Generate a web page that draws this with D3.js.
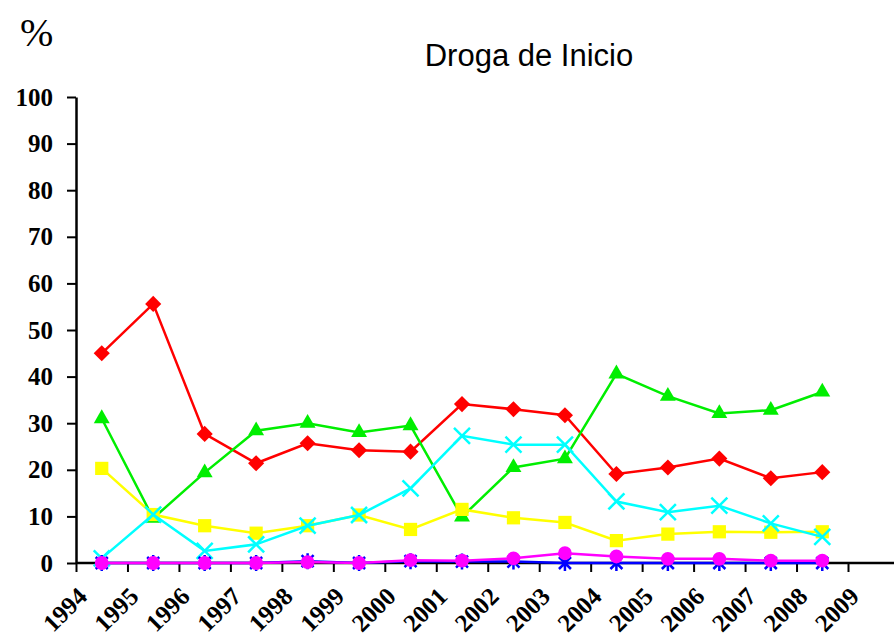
<!DOCTYPE html>
<html>
<head>
<meta charset="utf-8">
<script src="https://cdn.jsdelivr.net/npm/d3@7"></script>
<style>
  body { margin: 0; background: #fff; }
  svg { display: block; }
</style>
</head>
<body>
<div id="chart"></div>
<script>
// ===== DATA =====
const years = [1994, 1995, 1996, 1997, 1998, 1999, 2000, 2001, 2002, 2003, 2004, 2005, 2006, 2007, 2008];
const tickLabels = ["1994", "1995", "1996", "1997", "1998", "1999", "2000", "2001", "2002", "2003", "2004", "2005", "2006", "2007", "2008", "2009"];
const yTicks = [0, 10, 20, 30, 40, 50, 60, 70, 80, 90, 100];

const redValues     = [45.0, 55.6, 27.7, 21.4, 25.7, 24.2, 23.9, 34.1, 33.0, 31.7, 19.1, 20.5, 22.4, 18.2, 19.5];
const greenValues   = [31.0, 9.6, 19.4, 28.4, 30.0, 28.0, 29.5, 9.9, 20.5, 22.4, 40.6, 35.8, 32.1, 32.8, 36.7];
const yellowValues  = [20.3, 10.4, 8.0, 6.4, 8.0, 10.3, 7.2, 11.5, 9.7, 8.7, 4.8, 6.2, 6.7, 6.6, 6.7];
const cyanValues    = [1.0, 10.4, 2.6, 4.0, 8.0, 10.3, 16.0, 27.3, 25.4, 25.4, 13.2, 10.9, 12.3, 8.5, 5.6];
const blueValues    = [0, 0, 0, 0, 0.4, 0, 0.4, 0.3, 0.3, 0, 0, 0, 0, 0, 0];
const magentaValues = [0, 0, 0, 0, 0.2, 0, 0.6, 0.5, 1.0, 2.1, 1.4, 0.9, 0.9, 0.5, 0.5];

// drawing order: later ones on top
const series = [
  { name: 'red',     values: redValues,     color: '#ff0000', marker: 'diamond' },
  { name: 'green',   values: greenValues,   color: '#00ee00', marker: 'triangle' },
  { name: 'yellow',  values: yellowValues,  color: '#ffff00', marker: 'square' },
  { name: 'cyan',    values: cyanValues,    color: '#00ffff', marker: 'x' },
  { name: 'blue',    values: blueValues,    color: '#0000ff', marker: 'star' },
  { name: 'magenta', values: magentaValues, color: '#ff00ff', marker: 'circle' }
];

// ===== LAYOUT =====
const width = 894, height = 637;
const plot = { left: 76, right: 848, top: 97, bottom: 563 };

const svg = d3.select('#chart').append('svg')
  .attr('width', width)
  .attr('height', height);

// x: 15 categories, ticks on category edges
const x = d3.scaleLinear().domain([0, years.length]).range([plot.left, plot.right]);
const y = d3.scaleLinear().domain([0, 100]).range([plot.bottom, plot.top]);

// y axis
const yAxis = d3.axisLeft(y).tickValues(yTicks).tickSize(9).tickPadding(14).tickSizeOuter(0);
const gy = svg.append('g')
  .attr('transform', `translate(${plot.left},0)`)
  .call(yAxis);
gy.select('.domain').attr('stroke', '#000').attr('stroke-width', 2.5);
gy.selectAll('.tick line').attr('stroke', '#000').attr('stroke-width', 2);
gy.selectAll('.tick text')
  .attr('fill', '#000')
  .style('font-family', '"Liberation Serif", "Times New Roman", serif')
  .style('font-weight', 'bold')
  .style('font-size', '25px');

// x axis
const xAxis = d3.axisBottom(x)
  .tickValues(d3.range(tickLabels.length))
  .tickFormat(i => tickLabels[i])
  .tickSize(9)
  .tickSizeOuter(0);
const gx = svg.append('g')
  .attr('transform', `translate(0,${plot.bottom})`)
  .call(xAxis);
gx.select('.domain').remove();
gx.append('line')
  .attr('x1', plot.left).attr('x2', width)
  .attr('y1', 0).attr('y2', 0)
  .attr('stroke', '#000').attr('stroke-width', 2.5);
gx.selectAll('.tick line').attr('stroke', '#000').attr('stroke-width', 2);
gx.selectAll('.tick text')
  .attr('fill', '#000')
  .attr('text-anchor', 'end')
  .attr('dy', null)
  .attr('y', 0)
  .attr('transform', 'translate(12,35) rotate(-45)')
  .style('font-family', '"Liberation Serif", "Times New Roman", serif')
  .style('font-weight', 'bold')
  .style('font-size', '25px');

// ===== MARKERS =====
function markerPath(type) {
  if (type === 'diamond') return d3.symbol(d3.symbolSquare, 130)();
  if (type === 'triangle') return d3.symbol(d3.symbolTriangle, 110)();
  if (type === 'square') return d3.symbol(d3.symbolSquare, 175)();
  if (type === 'circle') return d3.symbol(d3.symbolCircle, 150)();
  if (type === 'x') {
    const r = 8;
    return `M${-r},${-r}L${r},${r}M${-r},${r}L${r},${-r}`;
  }
  if (type === 'star') {
    const r = 6;
    return `M${-r},${-r}L${r},${r}M${-r},${r}L${r},${-r}M0,${-r - 2}L0,${r + 2}`;
  }
}

const line = d3.line()
  .x((d, i) => x(i + 0.5))
  .y(d => y(d));

series.forEach(s => {
  const g = svg.append('g').attr('class', 'series-' + s.name);

  g.append('path')
    .datum(s.values)
    .attr('d', line)
    .attr('fill', 'none')
    .attr('stroke', s.color)
    .attr('stroke-width', 2.5);

  const stroked = s.marker === 'x' || s.marker === 'star';
  g.selectAll('.mark')
    .data(s.values)
    .join('path')
    .attr('class', 'mark')
    .attr('d', markerPath(s.marker))
    .attr('transform', (d, i) => {
      let t = `translate(${x(i + 0.5)},${y(d)})`;
      if (s.marker === 'diamond') t += ' rotate(45)';
      return t;
    })
    .attr('fill', stroked ? 'none' : s.color)
    .attr('stroke', stroked ? s.color : 'none')
    .attr('stroke-width', stroked ? 2.5 : 0);
});

// ===== TEXT =====
svg.append('text')
  .attr('x', 529)
  .attr('y', 66)
  .attr('text-anchor', 'middle')
  .style('font-family', '"Liberation Sans", Arial, sans-serif')
  .style('font-size', '31px')
  .text('Droga de Inicio');

svg.append('text')
  .attr('x', 20)
  .attr('y', 46)
  .style('font-family', '"Liberation Serif", "Times New Roman", serif')
  .style('font-size', '40px')
  .text('%');
</script>
</body>
</html>
